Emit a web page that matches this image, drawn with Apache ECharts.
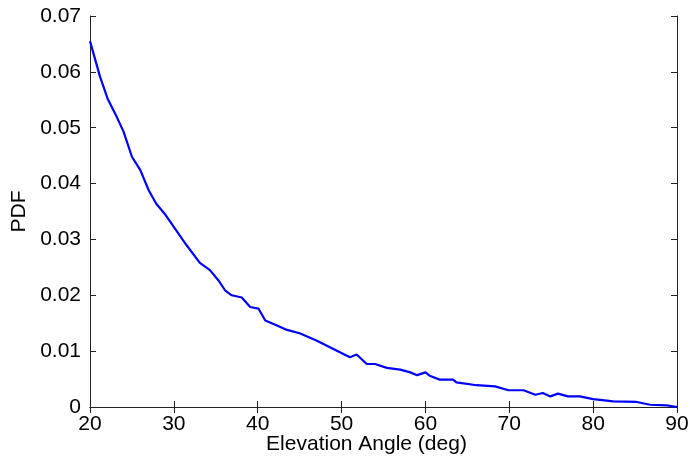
<!DOCTYPE html>
<html>
<head>
<meta charset="utf-8">
<script src="https://cdn.jsdelivr.net/npm/echarts@6/dist/echarts.min.js"></script>
<style>
  html, body { margin: 0; padding: 0; background: #fff; }
  #chart { width: 690px; height: 459px; }
</style>
</head>
<body>
<div id="chart"></div>
<script>
// elevation angle (deg) and PDF
const angles = [20, 21.2, 22.1, 23.2, 24.0, 25.0, 26.0, 27.0, 27.9, 28.9, 30.2, 31.5,
  33.1, 34.3, 35.3, 36.1, 36.9, 38.1, 39.1, 40.1, 40.9, 42.3, 43.5, 45.0, 47.0,
  49.8, 51.0, 51.8, 53.0, 54.0, 55.4, 57.0, 58.2, 59.0, 60.0, 60.5, 61.7, 63.3,
  63.7, 66.1, 68.3, 69.9, 71.7, 73.1, 74.0, 74.9, 75.8, 77.0, 78.4, 80.0, 82.4,
  85.2, 86.8, 88.8, 90];
const pdf = [0.0655, 0.0591, 0.0552, 0.0519, 0.0493, 0.0448, 0.0424, 0.0388, 0.0364,
  0.0346, 0.0318, 0.0290, 0.0258, 0.0245, 0.0227, 0.0209, 0.0200, 0.0196, 0.0179,
  0.0176, 0.0155, 0.0146, 0.0138, 0.0132, 0.0119, 0.0098, 0.0089, 0.0094, 0.0077,
  0.0077, 0.0070, 0.0067, 0.0062, 0.0057, 0.0062, 0.0056, 0.0049, 0.0049, 0.0044,
  0.0039, 0.0037, 0.0030, 0.0030, 0.0022, 0.0025, 0.0019, 0.0024, 0.0019, 0.0019,
  0.0014, 0.0010, 0.0009, 0.0004, 0.0003, 0.0000];

const xTicks = { min: 20, max: 90, step: 10 };
const yTicks = { min: 0, max: 0.07, step: 0.01 };

var chart = echarts.init(document.getElementById('chart'));
var font = 'Liberation Sans, Arial, sans-serif';
var lineStyle = { color: '#222', width: 1 };

chart.setOption({
  animation: false,
  grid: { left: 90, right: 13, top: 16, bottom: 52, outerBoundsMode: 'none', containLabel: false },
  xAxis: [{
    type: 'value', min: xTicks.min, max: xTicks.max, interval: xTicks.step,
    name: 'Elevation Angle (deg)', nameLocation: 'middle', nameGap: 27, nameMoveOverlap: false,
    nameTextStyle: { fontFamily: font, fontSize: 21, color: '#000', padding: [0, 34, 0, 0] },
    axisLine: { show: true, lineStyle: lineStyle },
    axisTick: { inside: true, length: 6, lineStyle: lineStyle },
    axisLabel: { fontFamily: font, fontSize: 21, color: '#000', margin: 7 },
    splitLine: { show: false }
  }, {
    type: 'value', position: 'top', min: xTicks.min, max: xTicks.max, interval: xTicks.step,
    axisLine: { show: true, lineStyle: lineStyle },
    axisTick: { inside: true, length: 6, lineStyle: lineStyle },
    axisLabel: { show: false },
    splitLine: { show: false }
  }],
  yAxis: [{
    type: 'value', min: yTicks.min, max: yTicks.max, interval: yTicks.step,
    name: 'PDF', nameLocation: 'middle', nameGap: 60, nameRotate: 90,
    nameTextStyle: { fontFamily: font, fontSize: 21, color: '#000' },
    axisLine: { show: true, lineStyle: lineStyle },
    axisTick: { inside: true, length: 6, lineStyle: lineStyle },
    axisLabel: { fontFamily: font, fontSize: 21, color: '#000', margin: 9 },
    splitLine: { show: false }
  }, {
    type: 'value', position: 'right', min: yTicks.min, max: yTicks.max, interval: yTicks.step,
    axisLine: { show: true, lineStyle: lineStyle },
    axisTick: { inside: true, length: 6, lineStyle: lineStyle },
    axisLabel: { show: false },
    splitLine: { show: false }
  }],
  series: [{
    type: 'line',
    data: angles.map(function (a, i) { return [a, pdf[i]]; }),
    showSymbol: false,
    lineStyle: { color: '#0000ff', width: 2.2 }
  }]
});
</script>
</body>
</html>
